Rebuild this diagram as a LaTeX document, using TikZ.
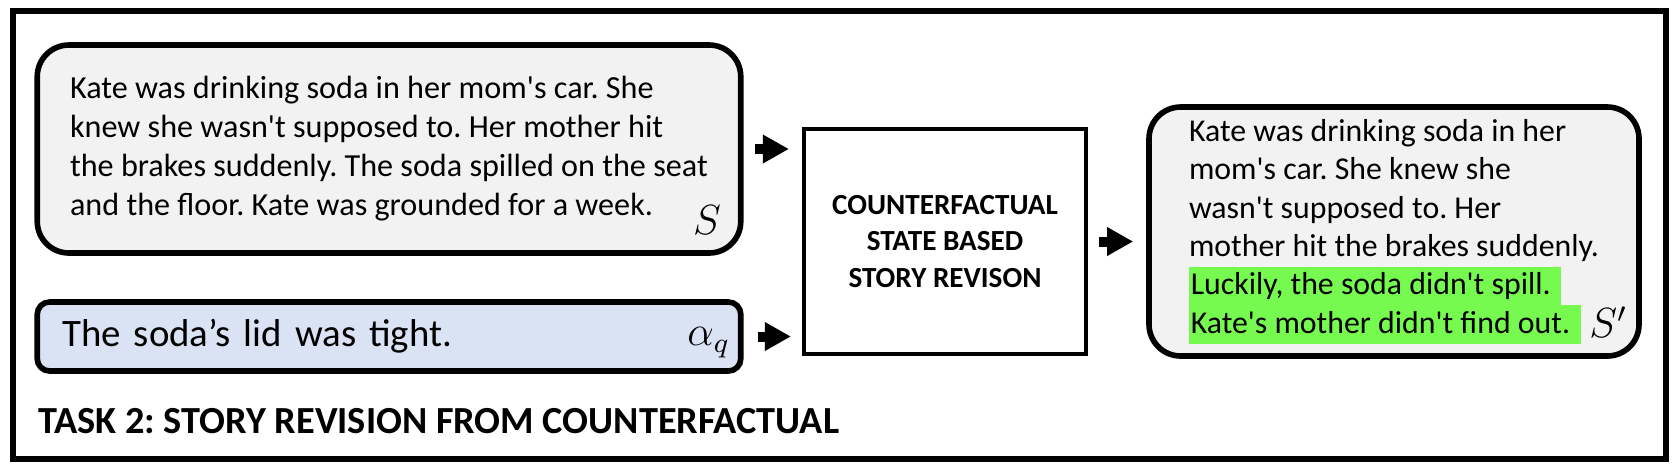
\documentclass[tikz,border=0pt]{standalone}
\usepackage{fontspec}
\setmainfont{Carlito}[Ligatures=TeXOff]
\usepackage{xcolor}
\usepackage{tikz}
\usetikzlibrary{positioning,arrows.meta,calc}
\definecolor{storygray}{HTML}{F2F2F2}
\definecolor{cfblue}{HTML}{DAE3F3}
\definecolor{hlgreen}{HTML}{77FA50}
\newcommand{\hlline}[1]{{\setlength{\fboxsep}{0pt}\colorbox{hlgreen}{\rule[-2.95pt]{0pt}{10.9pt}\hspace{0.5pt}#1\hspace{3pt}}}}
\frenchspacing

\begin{document}
\begin{tikzpicture}[
  story/.style={draw=black,line width=1.6pt,rounded corners=9pt,fill=storygray,
                align=left,inner sep=0pt,
                font=\fontsize{9.15}{11.1}\selectfont},
  cf/.style={draw=black,line width=1.6pt,rounded corners=3.5pt,fill=cfblue,
             align=left,inner xsep=0.25cm,inner ysep=0pt,
             font=\fontsize{11.05}{13.5}\selectfont},
  model/.style={draw=black,line width=1.2pt,fill=white,align=center,
                minimum width=2.82cm,minimum height=2.25cm,
                font=\fontsize{8.3}{10.3}\selectfont\bfseries},
  sym/.style={font=\fontsize{11.5}{13}\selectfont,inner sep=0pt},
  blk/.style={-{Triangle[length=2.6mm,width=2.7mm]},line width=1mm,black},
]
\useasboundingbox (0,0) rectangle (16.8,4.72);
% Outer frame
\draw[line width=1.7pt] (0.13,0.13) rectangle (16.66,4.61);

% Inputs on the left
\node[story,minimum width=7.035cm,minimum height=2.08cm] (s) at (3.89,3.23)
  {Kate was drinking soda in her mom's car. She\\
   knew she wasn't supposed to. Her mother hit\\
   the brakes suddenly. The soda spilled on the seat\\
   and the floor. Kate was grounded for a week.};
\node[cf,text width=6.535cm,minimum height=0.69cm] (aq) at (3.89,1.355)
  {The soda’s lid was tight.};

% Model box and revised story
\node[model] (m) at (9.45,2.305) {COUNTERFACTUAL\\STATE BASED\\STORY REVISON};
\node[story,minimum width=4.9cm,minimum height=2.49cm,
      font=\fontsize{9.05}{10.9}\selectfont] (sp) at (13.94,2.405)
  {Kate was drinking soda in her\\
   mom's car. She knew she\\
   wasn't supposed to. Her\\
   mother hit the brakes suddenly.\hspace*{0.24cm}\\
   \hlline{Luckily, the soda didn't spill.}\\
   \hlline{Kate's mother didn't find out.}};

% Symbols in the corners
\node[sym,anchor=base east] (slab) at ($(s.south east)+(-0.22,0.21)$) {$S$};
\node[sym,anchor=base east] (alab) at ($(aq.south east)+(-0.13,0.28)$) {$\alpha_q$};
\node[sym,anchor=base east] (splab) at ($(sp.south east)+(-0.14,0.21)$) {$S'$};

% Block arrows
\draw[blk,shorten <=0.11cm,shorten >=0.13cm] (s.east) -- (s.east -| m.west);
\draw[blk,shorten <=0.14cm,shorten >=0.11cm] (aq.east) -- (aq.east -| m.west);
\draw[blk,shorten <=0.11cm,shorten >=0.13cm] (m.east) -- (m.east -| sp.west);

% Task title
\node[anchor=base west,inner sep=0pt,font=\fontsize{10.9}{13}\selectfont\bfseries] (title)
  at (0.375,0.39) {TASK 2: STORY REVISION FROM COUNTERFACTUAL};
\end{tikzpicture}
\end{document}
